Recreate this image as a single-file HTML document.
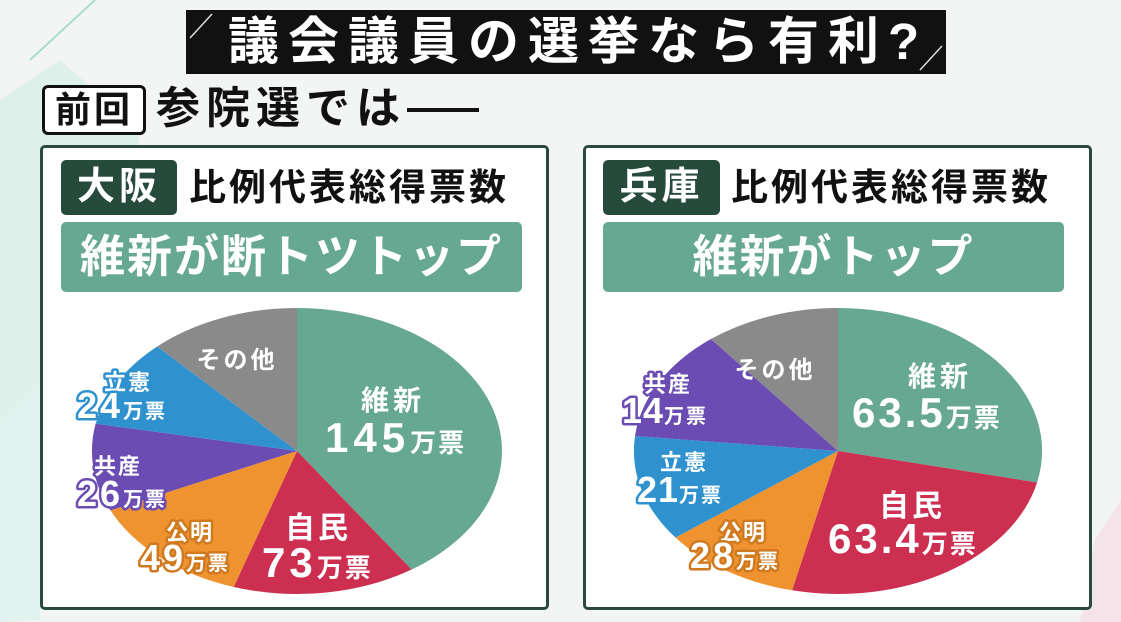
<!DOCTYPE html>
<html><head><meta charset="utf-8"><style>
html,body{margin:0;padding:0}
body{width:1121px;height:622px;overflow:hidden;position:relative;background:#f3f5f5;font-family:"Liberation Sans","Noto Sans CJK JP",sans-serif;font-weight:bold}
.abs{position:absolute}
.panel{position:absolute;top:145px;width:509px;height:465px;border:3px solid #2b4a3f;border-radius:5px;background:#fff;box-sizing:border-box}
.tag{position:absolute;background:#264a3c;color:#fff;border-radius:5px;font-size:38px;line-height:55px;text-align:center;letter-spacing:4px}
.sub{position:absolute;font-size:37px;line-height:55px;color:#111;letter-spacing:3px}
.ban{position:absolute;background:#67a893;color:#fff;border-radius:5px;font-size:45px;line-height:70px;text-align:center;letter-spacing:2px}
svg text{font-family:"Liberation Sans","Noto Sans CJK JP",sans-serif;font-weight:bold}
</style></head><body>
<svg class="abs" style="left:0;top:0" width="1121" height="622">
<polygon points="0,100 60,60 140,130 120,330 0,420" fill="#d9efe9" opacity="0.8"/>
<polygon points="0,420 40,380 40,620 0,622" fill="#e2f2ee"/>
<line x1="30" y1="60" x2="95" y2="0" stroke="#a9dcd0" stroke-width="2"/>
<polygon points="1095,540 1121,500 1121,622 1080,622" fill="#f3dde4" opacity="0.7"/>
</svg>
<div class="abs" style="left:186px;top:10px;width:760px;height:64px;background:#111"></div>
<svg class="abs" style="left:186px;top:10px" width="760" height="64"><line x1="4" y1="28" x2="26" y2="4" stroke="#ddd" stroke-width="1.5"/><line x1="734" y1="60" x2="756" y2="36" stroke="#ddd" stroke-width="1.5"/></svg>
<div class="abs" style="left:228px;top:10px;line-height:64px;font-size:51px;color:#fff;letter-spacing:9px;white-space:nowrap">議会議員の選挙なら有利?</div>
<div class="abs" style="left:42px;top:85px;width:98px;height:44px;border:3px solid #111;border-radius:6px;background:#fff;font-size:36px;line-height:44px;text-align:center;color:#111;letter-spacing:3px">前回</div>
<div class="abs" style="left:156px;top:83px;font-size:44px;line-height:52px;color:#111;letter-spacing:6px;white-space:nowrap">参院選では</div>
<div class="abs" style="left:407px;top:108px;width:72px;height:4px;background:#111"></div>

<div class="panel" style="left:40px"></div>
<div class="tag" style="left:61px;top:160px;width:116px">大阪</div>
<div class="sub" style="left:189px;top:160px">比例代表総得票数</div>
<div class="ban" style="left:61px;top:222px;width:461px">維新が断トツトップ</div>

<div class="panel" style="left:583px"></div>
<div class="tag" style="left:603px;top:160px;width:117px">兵庫</div>
<div class="sub" style="left:731px;top:160px">比例代表総得票数</div>
<div class="ban" style="left:603px;top:222px;width:461px">維新がトップ</div>

<svg class="abs" style="left:0;top:0" width="1121" height="622">
<g transform="translate(297,451) scale(205,143)">
<path d="M0,0 L0,-1 A1,1 0 0 1 0.559,0.829 Z" fill="#67a893"/>
<path d="M0,0 L0.559,0.829 A1,1 0 0 1 -0.309,0.951 Z" fill="#cd2f50"/>
<path d="M0,0 L-0.309,0.951 A1,1 0 0 1 -0.910,0.415 Z" fill="#ef9330"/>
<path d="M0,0 L-0.910,0.415 A1,1 0 0 1 -0.982,-0.191 Z" fill="#6a4cb3"/>
<path d="M0,0 L-0.982,-0.191 A1,1 0 0 1 -0.682,-0.731 Z" fill="#2f92cf"/>
<path d="M0,0 L-0.682,-0.731 A1,1 0 0 1 0,-1 Z" fill="#8a8a8a"/>
</g>
<g transform="translate(838,451) scale(204,143)">
<path d="M0,0 L0,-1 A1,1 0 0 1 0.976,0.220 Z" fill="#67a893"/>
<path d="M0,0 L0.976,0.220 A1,1 0 0 1 -0.225,0.974 Z" fill="#cd2f50"/>
<path d="M0,0 L-0.225,0.974 A1,1 0 0 1 -0.797,0.605 Z" fill="#ef9330"/>
<path d="M0,0 L-0.797,0.605 A1,1 0 0 1 -0.995,-0.105 Z" fill="#2f92cf"/>
<path d="M0,0 L-0.995,-0.105 A1,1 0 0 1 -0.623,-0.783 Z" fill="#6a4cb3"/>
<path d="M0,0 L-0.623,-0.783 A1,1 0 0 1 0,-1 Z" fill="#8a8a8a"/>
</g>
<g fill="#fff">
<text x="237" y="368" font-size="24" text-anchor="middle" letter-spacing="3">その他</text>
<text x="393" y="410" font-size="28" text-anchor="middle" letter-spacing="4">維新</text>
<text x="325" y="452" font-size="42" letter-spacing="5">145<tspan font-size="26" letter-spacing="2">万票</tspan></text>
<text x="318" y="538" font-size="30" text-anchor="middle" letter-spacing="3">自民</text>
<text x="262" y="577" font-size="42" letter-spacing="4">73<tspan font-size="26" letter-spacing="2">万票</tspan></text>
<text x="775" y="378" font-size="24" text-anchor="middle" letter-spacing="3">その他</text>
<text x="940" y="386" font-size="28" text-anchor="middle" letter-spacing="4">維新</text>
<text x="852" y="427" font-size="42" letter-spacing="3">63.5<tspan font-size="26" letter-spacing="2">万票</tspan></text>
<text x="912" y="516" font-size="30" text-anchor="middle" letter-spacing="3">自民</text>
<text x="828" y="553" font-size="42" letter-spacing="3">63.4<tspan font-size="26" letter-spacing="2">万票</tspan></text>
</g>
<g fill="#fff" stroke-width="5" paint-order="stroke" stroke-linejoin="round">
<text x="128" y="390" font-size="22" text-anchor="middle" stroke="#2f92cf" letter-spacing="2">立憲</text>
<text x="77" y="418" font-size="36" stroke="#2f92cf" letter-spacing="3">24<tspan font-size="20" letter-spacing="2">万票</tspan></text>
<text x="118" y="474" font-size="22" text-anchor="middle" stroke="#6a4cb3" letter-spacing="2">共産</text>
<text x="77" y="506" font-size="36" stroke="#6a4cb3" letter-spacing="3">26<tspan font-size="20" letter-spacing="2">万票</tspan></text>
<text x="190" y="540" font-size="22" text-anchor="middle" stroke="#d07a20" letter-spacing="2">公明</text>
<text x="140" y="570" font-size="36" stroke="#d07a20" letter-spacing="3">49<tspan font-size="20" letter-spacing="2">万票</tspan></text>
<text x="668" y="392" font-size="22" text-anchor="middle" stroke="#6a4cb3" letter-spacing="2">共産</text>
<text x="622" y="423" font-size="36" stroke="#6a4cb3" letter-spacing="1">14<tspan font-size="20" letter-spacing="2">万票</tspan></text>
<text x="684" y="470" font-size="22" text-anchor="middle" stroke="#2f92cf" letter-spacing="2">立憲</text>
<text x="637" y="502" font-size="36" stroke="#2f92cf" letter-spacing="1">21<tspan font-size="20" letter-spacing="2">万票</tspan></text>
<text x="743" y="540" font-size="22" text-anchor="middle" stroke="#d07a20" letter-spacing="2">公明</text>
<text x="690" y="568" font-size="36" stroke="#d07a20" letter-spacing="3">28<tspan font-size="20" letter-spacing="2">万票</tspan></text>
</g>
</svg>
</body></html>
